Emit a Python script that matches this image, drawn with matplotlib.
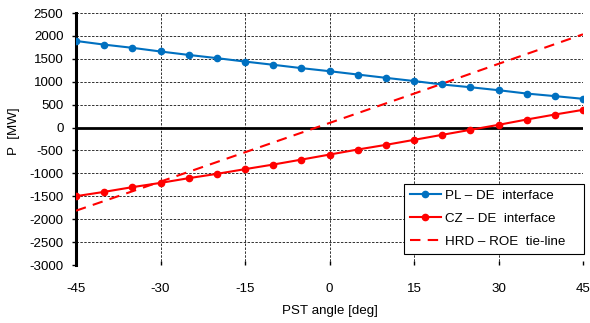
import numpy as np
import matplotlib
matplotlib.use('Agg')
import matplotlib.pyplot as plt

plt.rcParams['font.family'] = ['Liberation Sans', 'DejaVu Sans']
plt.rcParams['axes.unicode_minus'] = False

# PST angle values (deg) where the interface flows were computed
angle = [-45, -40, -35, -30, -25, -20, -15, -10, -5, 0, 5, 10, 15, 20, 25, 30, 35, 40, 45]
pl_de = [1890, 1810, 1740, 1660, 1585, 1515, 1440, 1370, 1297, 1230, 1157, 1085, 1015, 940, 880, 815, 742, 686, 627]
cz_de = [-1498, -1404, -1301, -1208, -1105, -1011, -908, -808, -700, -590, -480, -378, -269, -159, -50, 59, 175, 284, 386]

# tie-line read at a few angles
tie_angle = [-45, -30, -15, 0, 15, 30, 45]
hrd_roe = [-1815, -1180, -540, 100, 740, 1390, 2035]

blue = '#0070C0'
red = '#FF0000'

fig = plt.figure(figsize=(5.9, 3.23), dpi=100)
ax = fig.add_axes([76/590, 1 - 265/323, 507/590, 252/323])

ax.plot(angle, pl_de, color=blue, lw=1.5, marker='o', ms=4.5, label='PL \u2013 DE  interface', zorder=4)
ax.plot(angle, cz_de, color=red, lw=1.5, marker='o', ms=4.5, label='CZ \u2013 DE  interface', zorder=4)
ax.plot(tie_angle, hrd_roe, color=red, lw=1.5, ls=(0, (5, 3.5)), label='HRD \u2013 ROE  tie-line', zorder=3)

ax.axhline(0, color='black', lw=2, zorder=2)

ax.set_xlim(-45, 45)
ax.set_ylim(-3000, 2500)
ax.set_xticks(np.arange(-45, 46, 15))
ax.set_yticks(np.arange(-3000, 2501, 500))
ax.grid(True, color='#303030', ls=(0, (2.5, 1.5)), lw=0.7)
for s in ['top', 'right', 'bottom']:
    ax.spines[s].set_visible(False)
ax.spines['left'].set_linewidth(2.2)
ax.tick_params(axis='y', length=3, width=1, labelsize=9.6, pad=6)
ax.tick_params(axis='x', direction='in', length=3, width=1, labelsize=9.6, pad=13)

ax.set_xlabel('PST angle [deg]', fontsize=9.6, labelpad=7)
ax.set_ylabel('P  [MW]', fontsize=9.6)
ax.yaxis.set_label_coords(-0.110, 0.53)

leg = ax.legend(loc='lower left', bbox_to_anchor=(0.647, 0.044, 0.355, 0.29), mode='expand',
                borderaxespad=0, fontsize=9.6, fancybox=False, framealpha=1, edgecolor='black',
                borderpad=0.45, handlelength=2.3, handletextpad=0.3, labelspacing=0.8)
leg.get_frame().set_linewidth(0.8)

fig.savefig('out.png', dpi=100)
